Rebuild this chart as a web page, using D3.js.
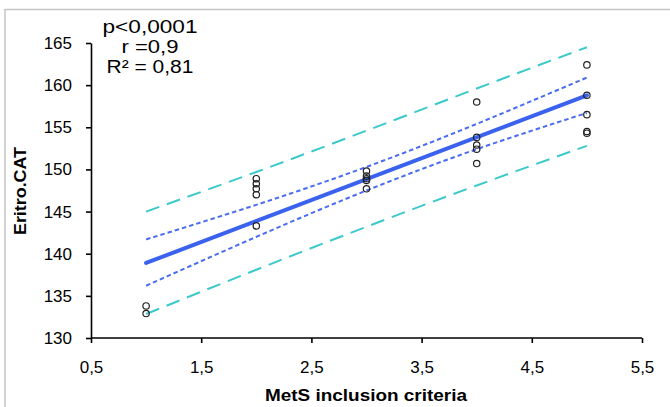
<!DOCTYPE html>
<html>
<head>
<meta charset="utf-8">
<script src="https://cdn.jsdelivr.net/npm/d3@7"></script>
<style>
  html, body { margin: 0; padding: 0; background: #fff; }
  svg { display: block; }
  text { font-family: "Liberation Sans", Arial, sans-serif; fill: #000; }
</style>
</head>
<body>
<svg id="chart" width="670" height="407"></svg>
<script>
// ---- data ----
const xTicks = [0.5, 1.5, 2.5, 3.5, 4.5, 5.5];
const yTicks = [130, 135, 140, 145, 150, 155, 160, 165];

const pointX = [1, 1, 2, 2, 2, 2, 2, 3, 3, 3, 3, 3, 4, 4, 4, 4, 4, 5, 5, 5, 5, 5];
const pointY = [133.8, 132.9,
                143.3, 147.0, 147.7, 148.3, 148.9,
                149.8, 149.2, 148.9, 148.7, 147.7,
                158.0, 153.8, 152.9, 152.4, 150.7,
                162.4, 158.8, 156.5, 154.5, 154.3];

const fitX = [1, 5];
const fitY = [138.9, 158.8];

const bandX = [1, 2, 3, 4, 5];
const ciUpper = [141.7, 145.8, 150.3, 155.4, 160.9];
const ciLower = [136.2, 142.0, 147.5, 152.4, 156.7];
const piUpper = [145.0, 149.7, 154.6, 159.6, 164.5];
const piLower = [132.85, 138.1, 143.2, 148.1, 152.8];

const statsLines = ["p<0,0001", "r =0,9", "R\u00B2 = 0,81"];
const xTitle = "MetS inclusion criteria";
const yTitle = "Eritro.CAT";

// ---- drawing ----
const svg = d3.select("#chart");

// outer frame
svg.append("rect")
  .attr("x", 5).attr("y", 9.5)
  .attr("width", 700).attr("height", 420)
  .attr("fill", "none").attr("stroke", "#c4c4c4").attr("stroke-width", 1.5);

const x = d3.scaleLinear().domain([0.5, 5.5]).range([91, 642]);
const y = d3.scaleLinear().domain([130, 165]).range([338, 43]);

const fmt = d => d3.format(",")(d).replace(".", ",");

const line = d3.line().x(d => x(d[0])).y(d => y(d[1]));
const curve = d3.line().x(d => x(d[0])).y(d => y(d[1])).curve(d3.curveNatural);

// prediction band (cyan long dash)
[piUpper, piLower].forEach(arr => {
  svg.append("path")
    .attr("d", curve(bandX.map((v, i) => [v, arr[i]])))
    .attr("fill", "none").attr("stroke", "#3cc9cc").attr("stroke-width", 2)
    .attr("stroke-dasharray", "14,8");
});

// confidence band (blue short dash)
[ciUpper, ciLower].forEach(arr => {
  svg.append("path")
    .attr("d", curve(bandX.map((v, i) => [v, arr[i]])))
    .attr("fill", "none").attr("stroke", "#4a6cf2").attr("stroke-width", 2)
    .attr("stroke-dasharray", "4.5,3");
});

// fit line
svg.append("path")
  .attr("d", line(fitX.map((v, i) => [v, fitY[i]])))
  .attr("fill", "none").attr("stroke", "#3a62ee").attr("stroke-width", 4)
  .attr("stroke-linecap", "round");

// points
svg.append("g").selectAll("circle")
  .data(pointX.map((v, i) => [v, pointY[i]]))
  .join("circle")
  .attr("cx", d => x(d[0])).attr("cy", d => y(d[1]))
  .attr("r", 3.2)
  .attr("fill", "none").attr("stroke", "#222").attr("stroke-width", 1.2);

// axes
const xAxis = d3.axisBottom(x).tickValues(xTicks).tickFormat(fmt)
  .tickSize(5).tickSizeOuter(0).tickPadding(18);
const yAxis = d3.axisLeft(y).tickValues(yTicks).tickFormat(fmt)
  .tickSize(5).tickSizeOuter(0).tickPadding(14);

const gx = svg.append("g").attr("transform", "translate(0,338)").call(xAxis);
const gy = svg.append("g").attr("transform", "translate(91,0)").call(yAxis);

[gx, gy].forEach(g => {
  g.select(".domain").attr("stroke", "#000").attr("stroke-width", 1.6);
  g.selectAll(".tick line").attr("stroke", "#000").attr("stroke-width", 1.6);
  g.selectAll(".tick text")
    .attr("font-family", "Liberation Sans, Arial, sans-serif")
    .attr("font-size", 17).attr("fill", "#111");
});
gx.select(".domain").attr("d", `M${x(0.5)},0H${x(5.5)}`);

// axis titles
svg.append("text")
  .attr("x", 366).attr("y", 401)
  .attr("text-anchor", "middle")
  .attr("font-size", 17).attr("font-weight", "bold")
  .attr("textLength", 202).attr("lengthAdjust", "spacingAndGlyphs")
  .text(xTitle);

svg.append("text")
  .attr("transform", "translate(26,191) rotate(-90)")
  .attr("text-anchor", "middle")
  .attr("font-size", 17).attr("font-weight", "bold")
  .attr("textLength", 88).attr("lengthAdjust", "spacingAndGlyphs")
  .text(yTitle);

// stats annotation
const statW = [95, 57, 87];
statsLines.forEach((t, i) => {
  svg.append("text")
    .attr("x", 150).attr("y", 33 + i * 20)
    .attr("text-anchor", "middle")
    .attr("font-size", 17.5)
    .attr("textLength", statW[i]).attr("lengthAdjust", "spacingAndGlyphs")
    .text(t);
});
</script>
</body>
</html>
